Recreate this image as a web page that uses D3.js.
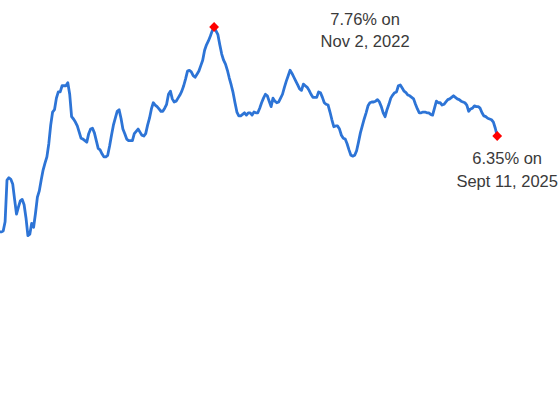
<!DOCTYPE html>
<html>
<head>
<meta charset="utf-8">
<script src="https://cdn.jsdelivr.net/npm/d3@7"></script>
<style>
  html, body { margin: 0; padding: 0; background: #ffffff; }
  svg { display: block; }
</style>
</head>
<body>
<svg id="chart" width="560" height="420"></svg>
<script>
// ---- data (weekly rate, %) ----
const startDate = "2020-09-02";
const rates = [
  5.11,5.11,5.12,5.24,5.78,5.81,5.79,5.73,5.53,5.34,
  5.43,5.51,5.53,5.46,5.29,5.06,5.08,5.22,5.17,5.35,
  5.56,5.64,5.78,5.91,6.00,6.08,6.25,6.49,6.66,6.69,
  6.84,6.92,6.92,7.00,7.00,7.00,7.04,6.89,6.60,6.57,
  6.53,6.48,6.40,6.32,6.31,6.29,6.27,6.38,6.44,6.45,
  6.39,6.29,6.19,6.17,6.12,6.08,6.08,6.10,6.22,6.36,
  6.49,6.58,6.67,6.69,6.58,6.44,6.38,6.31,6.29,6.29,
  6.29,6.38,6.41,6.44,6.40,6.36,6.35,6.38,6.49,6.58,
  6.70,6.78,6.75,6.73,6.70,6.67,6.67,6.71,6.76,6.89,
  6.93,6.83,6.79,6.80,6.84,6.88,6.93,7.00,7.09,7.19,
  7.20,7.18,7.13,7.11,7.15,7.19,7.26,7.33,7.46,7.53,
  7.58,7.64,7.71,7.76,7.71,7.66,7.53,7.41,7.33,7.28,
  7.20,7.10,7.01,6.91,6.78,6.66,6.61,6.61,6.63,6.65,
  6.62,6.65,6.65,6.62,6.66,6.65,6.65,6.71,6.78,6.84,
  6.89,6.87,6.80,6.73,6.84,6.80,6.78,6.79,6.84,6.89,
  6.98,7.06,7.13,7.20,7.16,7.11,7.06,7.01,6.96,6.94,
  7.02,7.00,6.98,6.94,6.89,6.85,6.85,6.85,6.92,6.91,
  6.85,6.78,6.76,6.75,6.66,6.56,6.47,6.48,6.48,6.44,
  6.36,6.32,6.31,6.25,6.17,6.10,6.09,6.10,6.16,6.27,
  6.39,6.48,6.57,6.65,6.74,6.78,6.79,6.79,6.80,6.82,
  6.79,6.73,6.65,6.60,6.69,6.76,6.84,6.88,6.91,6.92,
  7.00,7.01,6.97,6.93,6.91,6.88,6.87,6.85,6.83,6.76,
  6.70,6.65,6.65,6.66,6.66,6.65,6.65,6.63,6.62,6.71,
  6.80,6.78,6.78,6.75,6.76,6.79,6.82,6.83,6.85,6.87,
  6.85,6.83,6.82,6.80,6.79,6.78,6.75,6.67,6.70,6.71,
  6.74,6.73,6.73,6.71,6.65,6.61,6.60,6.58,6.57,6.56,
  6.53,6.45,6.35
];
const peakIndex = 113;
const peakLabel = ["7.76% on", "Nov 2, 2022"];
const lastLabel = ["6.35% on", "Sept 11, 2025"];

// ---- build ----
const start = d3.timeParse("%Y-%m-%d")(startDate);
const data = rates.map((v, i) => ({ date: d3.timeDay.offset(start, 7 * i), value: v }));

const svg = d3.select("#chart");

const x = d3.scaleTime()
  .domain(d3.extent(data, d => d.date))
  .range([-0.6, 497.2]);

const y = d3.scaleLinear()
  .domain([4.5, 8.0])
  .range([279.0, 8.45]);

const line = d3.line()
  .x(d => x(d.date))
  .y(d => y(d.value));

svg.append("path")
  .datum(data)
  .attr("fill", "none")
  .attr("stroke", "#2d74d6")
  .attr("stroke-width", 2.8)
  .attr("stroke-linejoin", "round")
  .attr("stroke-linecap", "round")
  .attr("d", line);

const marked = [data[peakIndex], data[data.length - 1]];
const diamond = d3.symbol().type(d3.symbolSquare).size(48);
svg.selectAll("path.marker")
  .data(marked)
  .enter().append("path")
  .attr("class", "marker")
  .attr("d", diamond)
  .attr("fill", "#ff0000")
  .attr("transform", d => `translate(${x(d.date)},${y(d.value)}) rotate(45)`);

function label(point, lines, dx, dyFirst) {
  const t = svg.append("text")
    .attr("text-anchor", "middle")
    .attr("font-family", "'Liberation Sans', Arial, sans-serif")
    .attr("font-size", "16.5px")
    .attr("fill", "#3a3a3a");
  lines.forEach((s, i) => {
    t.append("tspan")
      .attr("x", x(point.date) + dx)
      .attr("y", y(point.value) + dyFirst + i * 22.5)
      .text(s);
  });
}
label(data[peakIndex], peakLabel, 151, -2.5);
label(data[data.length - 1], lastLabel, 10, 28.5);
</script>
</body>
</html>
